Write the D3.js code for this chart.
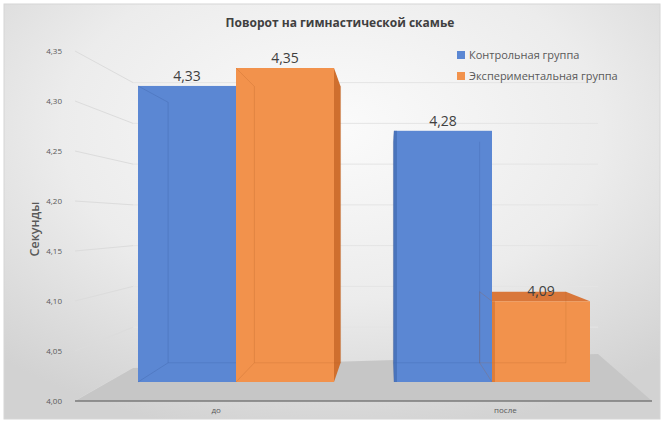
<!DOCTYPE html>
<html>
<head>
<meta charset="utf-8">
<script src="https://cdn.jsdelivr.net/npm/d3@7"></script>
<style>
  body { margin: 0; background: #fff; }
  text { font-family: "Open Sans", "Noto Sans", sans-serif; }
</style>
</head>
<body>
<svg id="chart" width="666" height="423"></svg>
<script>
// data
const categories = ["до", "после"];
const seriesNames = ["Контрольная группа", "Экспериментальная группа"];
const control = [4.33, 4.28];
const experimental = [4.35, 4.09];
const yTicks = [4.00, 4.05, 4.10, 4.15, 4.20, 4.25, 4.30, 4.35];

const colors = {
  front: ["#5b87d3", "#f2924c"],
  side: ["#3f67ae", "#cf6f2e"],
  top: ["#4d74bd", "#d9773a"],
  edge: ["#2f4f8f", "#a9561f"]
};

const svg = d3.select("#chart");
const fmt = d => d.toFixed(2).replace(".", ",");

// vanishing point of the 3d view and depth factors
const VP = {x: 389, y: 222};
const barDepth = 0.88, wallDepth = 0.815, frontDepth = 1.13;
const proj = (p, k) => ({x: VP.x + (p.x - VP.x) * k, y: VP.y + (p.y - VP.y) * k});
const pts = arr => arr.map(p => p.x + "," + p.y).join(" ");

// background
const defs = svg.append("defs");
const grad = defs.append("radialGradient").attr("id", "bg")
  .attr("cx", "0.5").attr("cy", "0.3").attr("r", "0.75");
grad.append("stop").attr("offset", "0%").attr("stop-color", "#fbfbfb");
grad.append("stop").attr("offset", "55%").attr("stop-color", "#ececec");
grad.append("stop").attr("offset", "100%").attr("stop-color", "#d2d2d2");
svg.append("rect").attr("x", 4).attr("y", 4).attr("width", 656).attr("height", 415)
  .attr("fill", "url(#bg)").attr("stroke", "#d6d6d6");

// scales
const yAxis = d3.scaleLinear().domain([4.0, 4.35]).range([401, 51]);
const yBar = d3.scaleLinear().domain([4.0, 4.35]).range([382, 68]);
const xGroup = d3.scalePoint().domain(categories).range([236, 492]);
const xSeries = d3.scaleBand().domain([0, 1]).range([-98, 98]).padding(0);

const axisX = 75, floorRight = 652;

// walls gridlines (very faint)
const grid = svg.append("g");
yTicks.forEach(t => {
  const f = {x: axisX, y: yAxis(t)};
  const b = proj(f, wallDepth);
  grid.append("line").attr("x1", f.x).attr("y1", f.y).attr("x2", b.x).attr("y2", b.y)
    .attr("stroke", "#dcdcdc").attr("stroke-width", 1);
  if (t > 4) {
    grid.append("line").attr("x1", b.x).attr("y1", b.y).attr("x2", 598).attr("y2", b.y)
      .attr("stroke", "#e4e4e4").attr("stroke-width", 1);
  }
});

// floor
const fl = {x: axisX, y: yAxis(4)}, fr = {x: floorRight, y: yAxis(4)};
const bl = proj(fl, wallDepth);
svg.append("polygon")
  .attr("points", pts([fl, fr, {x: 598, y: bl.y - 14}, bl]))
  .attr("fill", "#c6c6c6");
svg.append("line").attr("x1", fl.x).attr("y1", fl.y).attr("x2", fr.x).attr("y2", fr.y)
  .attr("stroke", "#7a7a7a").attr("stroke-width", 1.5);

// bars
const bars = [];
categories.forEach((c, i) => {
  [control[i], experimental[i]].forEach((v, s) => {
    const x0 = xGroup(c) + xSeries(s), x1 = x0 + xSeries.bandwidth();
    const y0 = yBar(v), y1 = yBar(4);
    bars.push({c, s, v, x0, x1, y0, y1});
  });
});

const gSide = svg.append("g"), gFront = svg.append("g"), gLab = svg.append("g");
bars.forEach(b => {
  const FTL = {x: b.x0, y: b.y0}, FTR = {x: b.x1, y: b.y0},
        FBL = {x: b.x0, y: b.y1}, FBR = {x: b.x1, y: b.y1};
  const BTL = proj(FTL, barDepth), BTR = proj(FTR, barDepth),
        BBL = proj(FBL, barDepth), BBR = proj(FBR, barDepth);
  if (b.x1 < VP.x) {
    gSide.append("polygon").attr("points", pts([FTR, BTR, BBR, FBR])).attr("fill", colors.side[b.s]);
  }
  if (b.x0 > VP.x) {
    gSide.append("polygon").attr("points", pts([FTL, BTL, BBL, FBL])).attr("fill", colors.side[b.s]);
  }
  if (b.y0 > VP.y) {
    gSide.append("polygon").attr("points", pts([FTL, FTR, BTR, BTL])).attr("fill", colors.top[b.s]);
  }
  gFront.append("rect").attr("x", b.x0).attr("y", b.y0)
    .attr("width", b.x1 - b.x0).attr("height", b.y1 - b.y0)
    .attr("fill", colors.front[b.s]);
  // see-through back edges
  gFront.append("polyline").attr("points", pts([FBL, BBL, BTL, FTL]))
    .attr("fill", "none").attr("stroke", colors.edge[b.s]).attr("stroke-opacity", 0.22);
  gFront.append("polyline").attr("points", pts([BBL, BBR, BTR]))
    .attr("fill", "none").attr("stroke", colors.edge[b.s]).attr("stroke-opacity", 0.18);
  if (b.x0 > VP.x) {
    gFront.append("line").attr("x1", b.x0 + 1.5).attr("y1", b.y0).attr("x2", b.x0 + 1.5).attr("y2", b.y1)
      .attr("stroke", colors.side[b.s]).attr("stroke-width", 3).attr("stroke-opacity", 0.6);
  }
  gLab.append("text").attr("x", (b.x0 + b.x1) / 2).attr("y", b.y0 - 5)
    .attr("text-anchor", "middle").attr("font-size", 14).attr("fill", "#404040")
    .text(fmt(b.v));
});

// y tick labels
svg.append("g").selectAll("text").data(yTicks).join("text")
  .attr("x", 62).attr("y", d => yAxis(d) + 3)
  .attr("text-anchor", "end").attr("font-size", 8).attr("fill", "#595959")
  .text(fmt);

// category labels
svg.append("g").selectAll("text").data(categories).join("text")
  .attr("x", d => VP.x + (xGroup(d) - VP.x) * frontDepth)
  .attr("y", 413).attr("text-anchor", "middle").attr("font-size", 8).attr("fill", "#595959")
  .text(d => d);

// axis title
svg.append("text").attr("transform", "translate(39,229) rotate(-90)")
  .attr("text-anchor", "middle").attr("font-size", 12.5).attr("font-weight", 600).attr("fill", "#595959")
  .text("Секунды");

// chart title
svg.append("text").attr("x", 340).attr("y", 27).attr("text-anchor", "middle")
  .attr("font-size", 12).attr("font-weight", "bold").attr("fill", "#404040")
  .text("Поворот на гимнастической скамье");

// legend
const leg = svg.append("g").attr("transform", "translate(457,51)");
seriesNames.forEach((n, i) => {
  leg.append("rect").attr("x", 0).attr("y", i * 21).attr("width", 8).attr("height", 8)
    .attr("fill", colors.front[i]);
  leg.append("text").attr("x", 12).attr("y", i * 21 + 8).attr("font-size", 11)
    .attr("fill", "#595959").text(n);
});
</script>
</body>
</html>
